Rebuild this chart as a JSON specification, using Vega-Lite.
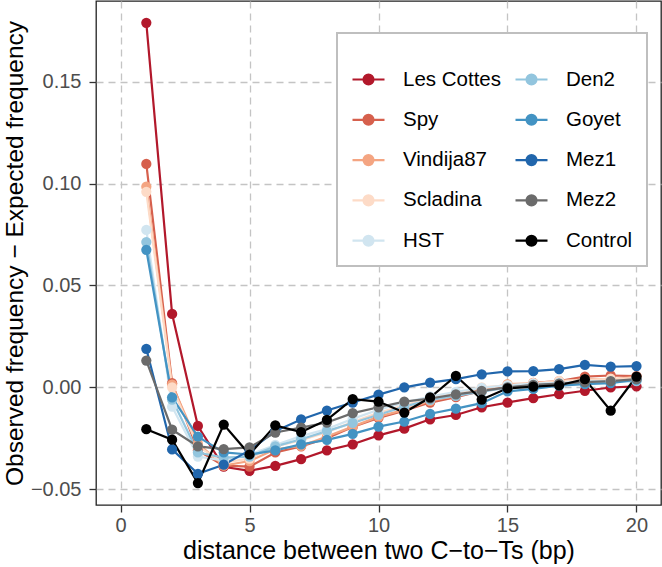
{
 "$schema": "https://vega.github.io/schema/vega-lite/v6.json",
 "width": 565,
 "height": 504,
 "autosize": {"type": "none"},
 "padding": {"left": 96, "top": 1, "right": 1, "bottom": 62},
 "config": {
  "font": "Liberation Sans",
  "view": {"stroke": "#222222", "strokeWidth": 1.3},
  "axis": {"grid": true, "gridColor": "#c4c4c4", "gridDash": [7, 5], "gridWidth": 1.3, "domain": false, "tickColor": "#333333", "tickSize": 7, "tickWidth": 1.3, "labelFontSize": 20, "labelColor": "#4d4d4d", "titleFontSize": 25, "titleFontWeight": "normal", "titleColor": "#000000"}
 },
 "data": {"values": [
  {"sample":"Les Cottes","distance":1,"value":0.179},{"sample":"Les Cottes","distance":2,"value":0.036},{"sample":"Les Cottes","distance":3,"value":-0.019},{"sample":"Les Cottes","distance":4,"value":-0.039},{"sample":"Les Cottes","distance":5,"value":-0.041},{"sample":"Les Cottes","distance":6,"value":-0.0386},{"sample":"Les Cottes","distance":7,"value":-0.0353},{"sample":"Les Cottes","distance":8,"value":-0.031},{"sample":"Les Cottes","distance":9,"value":-0.028},{"sample":"Les Cottes","distance":10,"value":-0.0236},{"sample":"Les Cottes","distance":11,"value":-0.0203},{"sample":"Les Cottes","distance":12,"value":-0.0157},{"sample":"Les Cottes","distance":13,"value":-0.0136},{"sample":"Les Cottes","distance":14,"value":-0.0098},{"sample":"Les Cottes","distance":15,"value":-0.0075},{"sample":"Les Cottes","distance":16,"value":-0.0053},{"sample":"Les Cottes","distance":17,"value":-0.0034},{"sample":"Les Cottes","distance":18,"value":-0.0017},{"sample":"Les Cottes","distance":19,"value":-0.0001},{"sample":"Les Cottes","distance":20,"value":0.0005},
  {"sample":"Spy","distance":1,"value":0.1097},{"sample":"Spy","distance":2,"value":0.002},{"sample":"Spy","distance":3,"value":-0.031},{"sample":"Spy","distance":4,"value":-0.0385},{"sample":"Spy","distance":5,"value":-0.039},{"sample":"Spy","distance":6,"value":-0.032},{"sample":"Spy","distance":7,"value":-0.029},{"sample":"Spy","distance":8,"value":-0.025},{"sample":"Spy","distance":9,"value":-0.0195},{"sample":"Spy","distance":10,"value":-0.015},{"sample":"Spy","distance":11,"value":-0.0115},{"sample":"Spy","distance":12,"value":-0.0075},{"sample":"Spy","distance":13,"value":-0.0048},{"sample":"Spy","distance":14,"value":-0.0018},{"sample":"Spy","distance":15,"value":0.0002},{"sample":"Spy","distance":16,"value":0.0022},{"sample":"Spy","distance":17,"value":0.003},{"sample":"Spy","distance":18,"value":0.0052},{"sample":"Spy","distance":19,"value":0.0058},{"sample":"Spy","distance":20,"value":0.0055},
  {"sample":"Vindija87","distance":1,"value":0.0985},{"sample":"Vindija87","distance":2,"value":0.0013},{"sample":"Vindija87","distance":3,"value":-0.0277},{"sample":"Vindija87","distance":4,"value":-0.0385},{"sample":"Vindija87","distance":5,"value":-0.0362},{"sample":"Vindija87","distance":6,"value":-0.0304},{"sample":"Vindija87","distance":7,"value":-0.0288},{"sample":"Vindija87","distance":8,"value":-0.0242},{"sample":"Vindija87","distance":9,"value":-0.0193},{"sample":"Vindija87","distance":10,"value":-0.0144},{"sample":"Vindija87","distance":11,"value":-0.0111},{"sample":"Vindija87","distance":12,"value":-0.0067},{"sample":"Vindija87","distance":13,"value":-0.0042},{"sample":"Vindija87","distance":14,"value":-0.0013},{"sample":"Vindija87","distance":15,"value":0.0015},{"sample":"Vindija87","distance":16,"value":0.002},{"sample":"Vindija87","distance":17,"value":0.0028},{"sample":"Vindija87","distance":18,"value":0.004},{"sample":"Vindija87","distance":19,"value":0.0038},{"sample":"Vindija87","distance":20,"value":0.0052},
  {"sample":"Scladina","distance":1,"value":0.096},{"sample":"Scladina","distance":2,"value":0.0},{"sample":"Scladina","distance":3,"value":-0.029},{"sample":"Scladina","distance":4,"value":-0.037},{"sample":"Scladina","distance":5,"value":-0.035},{"sample":"Scladina","distance":6,"value":-0.029},{"sample":"Scladina","distance":7,"value":-0.026},{"sample":"Scladina","distance":8,"value":-0.022},{"sample":"Scladina","distance":9,"value":-0.017},{"sample":"Scladina","distance":10,"value":-0.0125},{"sample":"Scladina","distance":11,"value":-0.0088},{"sample":"Scladina","distance":12,"value":-0.0052},{"sample":"Scladina","distance":13,"value":-0.003},{"sample":"Scladina","distance":14,"value":0.0},{"sample":"Scladina","distance":15,"value":0.001},{"sample":"Scladina","distance":16,"value":0.002},{"sample":"Scladina","distance":17,"value":0.0032},{"sample":"Scladina","distance":18,"value":0.0035},{"sample":"Scladina","distance":19,"value":0.0042},{"sample":"Scladina","distance":20,"value":0.0045},
  {"sample":"HST","distance":1,"value":0.0773},{"sample":"HST","distance":2,"value":-0.0095},{"sample":"HST","distance":3,"value":-0.034},{"sample":"HST","distance":4,"value":-0.036},{"sample":"HST","distance":5,"value":-0.033},{"sample":"HST","distance":6,"value":-0.0283},{"sample":"HST","distance":7,"value":-0.024},{"sample":"HST","distance":8,"value":-0.0205},{"sample":"HST","distance":9,"value":-0.0155},{"sample":"HST","distance":10,"value":-0.011},{"sample":"HST","distance":11,"value":-0.0075},{"sample":"HST","distance":12,"value":-0.0045},{"sample":"HST","distance":13,"value":-0.0022},{"sample":"HST","distance":14,"value":-0.0003},{"sample":"HST","distance":15,"value":0.001},{"sample":"HST","distance":16,"value":0.0018},{"sample":"HST","distance":17,"value":0.0022},{"sample":"HST","distance":18,"value":0.003},{"sample":"HST","distance":19,"value":0.003},{"sample":"HST","distance":20,"value":0.0038},
  {"sample":"Den2","distance":1,"value":0.0713},{"sample":"Den2","distance":2,"value":-0.006},{"sample":"Den2","distance":3,"value":-0.032},{"sample":"Den2","distance":4,"value":-0.0345},{"sample":"Den2","distance":5,"value":-0.034},{"sample":"Den2","distance":6,"value":-0.029},{"sample":"Den2","distance":7,"value":-0.0255},{"sample":"Den2","distance":8,"value":-0.0215},{"sample":"Den2","distance":9,"value":-0.0175},{"sample":"Den2","distance":10,"value":-0.0135},{"sample":"Den2","distance":11,"value":-0.0095},{"sample":"Den2","distance":12,"value":-0.0062},{"sample":"Den2","distance":13,"value":-0.0042},{"sample":"Den2","distance":14,"value":-0.0022},{"sample":"Den2","distance":15,"value":-0.0002},{"sample":"Den2","distance":16,"value":0.001},{"sample":"Den2","distance":17,"value":0.0018},{"sample":"Den2","distance":18,"value":0.002},{"sample":"Den2","distance":19,"value":0.0028},{"sample":"Den2","distance":20,"value":0.003},
  {"sample":"Goyet","distance":1,"value":0.0675},{"sample":"Goyet","distance":2,"value":-0.0049},{"sample":"Goyet","distance":3,"value":-0.0242},{"sample":"Goyet","distance":4,"value":-0.032},{"sample":"Goyet","distance":5,"value":-0.033},{"sample":"Goyet","distance":6,"value":-0.031},{"sample":"Goyet","distance":7,"value":-0.028},{"sample":"Goyet","distance":8,"value":-0.0258},{"sample":"Goyet","distance":9,"value":-0.0229},{"sample":"Goyet","distance":10,"value":-0.0193},{"sample":"Goyet","distance":11,"value":-0.0168},{"sample":"Goyet","distance":12,"value":-0.013},{"sample":"Goyet","distance":13,"value":-0.0105},{"sample":"Goyet","distance":14,"value":-0.0078},{"sample":"Goyet","distance":15,"value":-0.002},{"sample":"Goyet","distance":16,"value":-0.0008},{"sample":"Goyet","distance":17,"value":0.0008},{"sample":"Goyet","distance":18,"value":0.0015},{"sample":"Goyet","distance":19,"value":0.002},{"sample":"Goyet","distance":20,"value":0.0038},
  {"sample":"Mez1","distance":1,"value":0.0189},{"sample":"Mez1","distance":2,"value":-0.0305},{"sample":"Mez1","distance":3,"value":-0.0425},{"sample":"Mez1","distance":4,"value":-0.038},{"sample":"Mez1","distance":5,"value":-0.031},{"sample":"Mez1","distance":6,"value":-0.0215},{"sample":"Mez1","distance":7,"value":-0.0158},{"sample":"Mez1","distance":8,"value":-0.0114},{"sample":"Mez1","distance":9,"value":-0.0075},{"sample":"Mez1","distance":10,"value":-0.0036},{"sample":"Mez1","distance":11,"value":0.0},{"sample":"Mez1","distance":12,"value":0.0023},{"sample":"Mez1","distance":13,"value":0.004},{"sample":"Mez1","distance":14,"value":0.0064},{"sample":"Mez1","distance":15,"value":0.0078},{"sample":"Mez1","distance":16,"value":0.0079},{"sample":"Mez1","distance":17,"value":0.0089},{"sample":"Mez1","distance":18,"value":0.011},{"sample":"Mez1","distance":19,"value":0.0101},{"sample":"Mez1","distance":20,"value":0.0104},
  {"sample":"Mez2","distance":1,"value":0.0131},{"sample":"Mez2","distance":2,"value":-0.0208},{"sample":"Mez2","distance":3,"value":-0.029},{"sample":"Mez2","distance":4,"value":-0.0304},{"sample":"Mez2","distance":5,"value":-0.0295},{"sample":"Mez2","distance":6,"value":-0.0222},{"sample":"Mez2","distance":7,"value":-0.0198},{"sample":"Mez2","distance":8,"value":-0.0173},{"sample":"Mez2","distance":9,"value":-0.0127},{"sample":"Mez2","distance":10,"value":-0.0098},{"sample":"Mez2","distance":11,"value":-0.007},{"sample":"Mez2","distance":12,"value":-0.0055},{"sample":"Mez2","distance":13,"value":-0.0035},{"sample":"Mez2","distance":14,"value":-0.0018},{"sample":"Mez2","distance":15,"value":0.0},{"sample":"Mez2","distance":16,"value":0.0012},{"sample":"Mez2","distance":17,"value":0.0018},{"sample":"Mez2","distance":18,"value":0.0025},{"sample":"Mez2","distance":19,"value":0.003},{"sample":"Mez2","distance":20,"value":0.004},
  {"sample":"Control","distance":1,"value":-0.0206},{"sample":"Control","distance":2,"value":-0.0257},{"sample":"Control","distance":3,"value":-0.047},{"sample":"Control","distance":4,"value":-0.0183},{"sample":"Control","distance":5,"value":-0.033},{"sample":"Control","distance":6,"value":-0.0187},{"sample":"Control","distance":7,"value":-0.022},{"sample":"Control","distance":8,"value":-0.016},{"sample":"Control","distance":9,"value":-0.0058},{"sample":"Control","distance":10,"value":-0.007},{"sample":"Control","distance":11,"value":-0.0124},{"sample":"Control","distance":12,"value":-0.005},{"sample":"Control","distance":13,"value":0.0056},{"sample":"Control","distance":14,"value":-0.006},{"sample":"Control","distance":15,"value":-0.0005},{"sample":"Control","distance":16,"value":0.0003},{"sample":"Control","distance":17,"value":0.001},{"sample":"Control","distance":18,"value":0.004},{"sample":"Control","distance":19,"value":-0.0115},{"sample":"Control","distance":20,"value":0.0053}
 ]},
 "encoding": {
  "x": {"field": "distance", "type": "quantitative", "scale": {"domain": [-0.95, 20.95], "nice": false, "zero": false}, "axis": {"values": [0, 5, 10, 15, 20], "title": "distance between two C−to−Ts (bp)", "labelPadding": 3, "titlePadding": 3}},
  "y": {"field": "value", "type": "quantitative", "scale": {"domain": [-0.0578, 0.1897], "nice": false, "zero": false}, "axis": {"values": [-0.05, 0, 0.05, 0.1, 0.15], "format": ".2f", "title": "Observed frequency − Expected frequency", "titleFontSize": 24.5, "labelPadding": 8, "titlePadding": 3}},
  "color": {"field": "sample", "type": "nominal",
   "scale": {"domain": ["Les Cottes", "Spy", "Vindija87", "Scladina", "HST", "Den2", "Goyet", "Mez1", "Mez2", "Control"],
             "range": ["#b2182b", "#d6604d", "#f4a582", "#fddbc7", "#d1e5f0", "#92c5de", "#4393c3", "#2166ac", "#6b6b6b", "#000000"]},
   "legend": {"orient": "none", "legendX": 241, "legendY": 32, "columns": 2, "title": " ", "titleFontSize": 8, "titlePadding": 7, "padding": 14, "strokeColor": "#bfbfbf", "fillColor": "#ffffff", "labelFontSize": 20.5, "labelColor": "#000000", "labelLimit": 300, "symbolType": "M-1,0L1,0M-0.31,0A0.31,0.31,0,1,1,0.31,0A0.31,0.31,0,1,1,-0.31,0Z", "symbolSize": 1024, "symbolStrokeWidth": 2.2, "symbolOpacity": 1, "labelOffset": 17, "rowPadding": 12.3, "columnPadding": 10,
     "encode": {"legend": {"update": {"strokeWidth": {"value": 2}}}, "symbols": {"update": {"fill": {"scale": "color", "field": "value"}, "stroke": {"scale": "color", "field": "value"}, "opacity": {"value": 1}}}}}
  }
 },
 "layer": [
  {"mark": {"type": "line", "strokeWidth": 2.2}},
  {"mark": {"type": "point", "filled": true, "size": 105, "opacity": 1}}
 ]
}
